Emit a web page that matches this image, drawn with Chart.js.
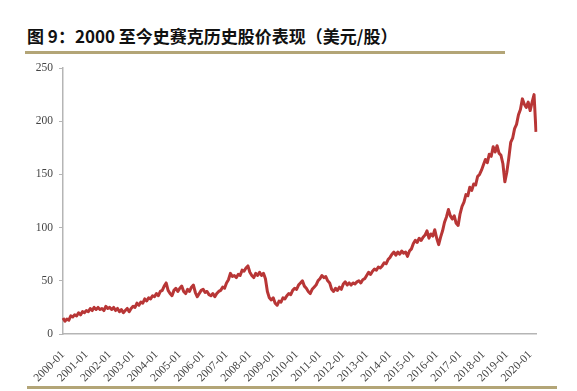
<!DOCTYPE html>
<html>
<head>
<meta charset="utf-8">
<script src="https://cdn.jsdelivr.net/npm/chart.js@4"></script>
<style>
  html, body { margin: 0; padding: 0; background: #fff; }
  #wrap { position: relative; width: 577px; height: 391px; overflow: hidden; }
  #title {
    position: absolute; left: 27px; top: 23px;
    font-family: "Noto Sans CJK SC", sans-serif; font-weight: bold;
    font-size: 17px; color: #111; white-space: nowrap; letter-spacing: 0;
  }
  .rule { position: absolute; height: 3px; background: #b3a577; }
  #chart { position: absolute; left: 0; top: 0; }
</style>
</head>
<body>
<div id="wrap">
  <div id="title">图 9：2000 至今史赛克历史股价表现（美元/股）</div>
  <div class="rule" style="left:25px; top:51px; width:480px;"></div>
  <canvas id="chart" width="577" height="391"></canvas>
  <div class="rule" style="left:27px; top:386px; width:530px;"></div>
</div>
<script>
// monthly closing price, USD per share
const startYear = 2000;
const prices2000 = [15, 12, 14, 13, 17, 16, 18, 17, 20, 18, 21, 20];
const prices2001 = [22, 21, 24, 22, 25, 23, 25, 23, 24, 22, 26, 24];
const prices2002 = [25, 23, 25, 22, 24, 21, 23, 20, 22, 24, 21, 24];
const prices2003 = [26, 25, 29, 27, 30, 29, 33, 31, 34, 33, 36, 35];
const prices2004 = [38, 36, 40, 41, 45, 48, 41, 38, 36, 41, 43, 40];
const prices2005 = [43, 45, 40, 38, 42, 40, 44, 46, 39, 35, 38, 41];
const prices2006 = [42, 39, 40, 37, 36, 38, 35, 38, 40, 41, 44, 43];
const prices2007 = [48, 51, 57, 54, 55, 53, 56, 55, 60, 59, 62, 64];
const prices2008 = [58, 55, 53, 57, 55, 58, 55, 57, 52, 40, 34, 32];
const prices2009 = [34, 29, 27, 31, 30, 34, 33, 36, 38, 37, 41, 43];
const prices2010 = [42, 46, 48, 50, 45, 43, 40, 38, 42, 44, 46, 50];
const prices2011 = [52, 55, 53, 54, 50, 48, 42, 40, 43, 41, 44, 42];
const prices2012 = [47, 49, 46, 48, 46, 48, 47, 49, 50, 48, 51, 52];
const prices2013 = [55, 58, 56, 59, 61, 60, 63, 62, 64, 67, 66, 70];
const prices2014 = [72, 75, 77, 74, 77, 75, 78, 76, 77, 73, 78, 80];
const prices2015 = [85, 88, 86, 90, 88, 91, 93, 97, 90, 94, 92, 98];
const prices2016 = [90, 84, 91, 97, 105, 110, 117, 111, 108, 111, 104, 102];
const prices2017 = [113, 120, 124, 131, 130, 138, 135, 141, 140, 148, 150, 154];
const prices2018 = [159, 164, 161, 169, 167, 176, 171, 177, 170, 168, 160, 143];
const prices2019 = [152, 165, 180, 184, 193, 197, 206, 211, 221, 216, 213, 218];
const prices2020 = [210, 218, 225, 190];

const yTicks = [0, 50, 100, 150, 200, 250];

const prices = [].concat(prices2000, prices2001, prices2002, prices2003, prices2004,
  prices2005, prices2006, prices2007, prices2008, prices2009, prices2010, prices2011,
  prices2012, prices2013, prices2014, prices2015, prices2016, prices2017, prices2018,
  prices2019, prices2020);

const labels = prices.map((v, i) => {
  const y = startYear + Math.floor(i / 12);
  const m = (i % 12) + 1;
  return y + '-' + (m < 10 ? '0' + m : m);
});

const serif = '"Liberation Serif", "DejaVu Serif", serif';

new Chart(document.getElementById('chart'), {
  type: 'line',
  data: {
    labels: labels,
    datasets: [{
      data: prices,
      borderColor: '#b83636',
      borderWidth: 3,
      borderJoinStyle: 'round',
      pointRadius: 0,
      tension: 0,
      fill: false
    }]
  },
  options: {
    responsive: false,
    animation: false,
    layout: { padding: { top: 68, right: 41, left: 0, bottom: 0 } },
    plugins: { legend: { display: false }, tooltip: { enabled: false } },
    scales: {
      x: {
        offset: false,
        grid: { display: false },
        border: { color: '#b5b5b5', width: 1.5 },
        afterFit: (s) => { s.height = 57; },
        ticks: {
          autoSkip: false,
          maxRotation: 45,
          minRotation: 45,
          padding: 6,
          color: '#444',
          font: { family: serif, size: 11.5 },
          callback: function (v, i) {
            const l = labels[i];
            return l.endsWith('-01') ? l : null;
          }
        }
      },
      y: {
        min: 0,
        max: 250,
        afterFit: (s) => { s.width = 63; },
        afterBuildTicks: (s) => { s.ticks = yTicks.map(v => ({ value: v })); },
        grid: { drawOnChartArea: false, tickLength: 4, color: '#b5b5b5' },
        border: { color: '#b5b5b5', width: 1.5 },
        ticks: {
          padding: 6,
          color: '#444',
          font: { family: serif, size: 11.5 }
        }
      }
    }
  }
});
</script>
</body>
</html>
